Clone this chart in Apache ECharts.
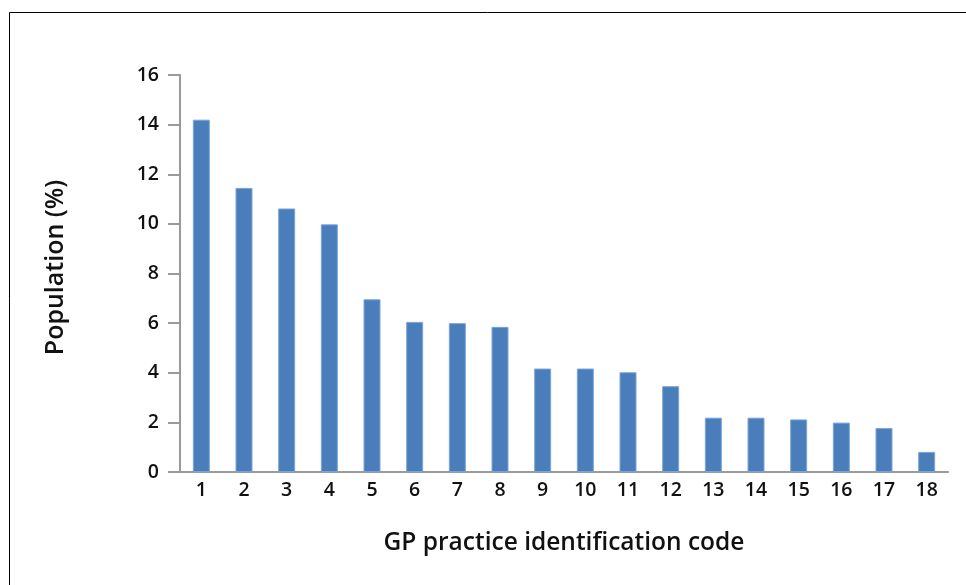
<!DOCTYPE html>
<html>
<head>
<meta charset="utf-8">
<script src="https://cdn.jsdelivr.net/npm/echarts@6/dist/echarts.min.js"></script>
<style>
html,body{margin:0;padding:0;background:#fff;}
#chart{width:966px;height:585px;}
</style>
</head>
<body>
<div id="chart"></div>
<script>
const categories = ['1','2','3','4','5','6','7','8','9','10','11','12','13','14','15','16','17','18'];
const populationPct = [14.2, 11.45, 10.62, 9.98, 6.96, 6.05, 6.0, 5.85, 4.17, 4.17, 4.02, 3.46, 2.19, 2.19, 2.12, 1.99, 1.77, 0.81];
const yTicks = { min: 0, max: 16, interval: 2 };

const chart = echarts.init(document.getElementById('chart'), null, { renderer: 'canvas' });
const font = '"Open Sans", "Noto Sans", sans-serif';
chart.setOption({
  animation: false,
  backgroundColor: '#fff',
  grid: { left: 180, right: 18, top: 75, bottom: 113 },
  graphic: [
    { type: 'line', shape: { x1: 9.5, y1: 12.5, x2: 966, y2: 12.5 }, style: { stroke: '#000', lineWidth: 1 } },
    { type: 'line', shape: { x1: 9.5, y1: 12.5, x2: 9.5, y2: 585 }, style: { stroke: '#000', lineWidth: 1 } }
  ],
  xAxis: {
    type: 'category',
    data: categories,
    name: 'GP practice identification code',
    nameLocation: 'middle',
    nameGap: 59,
    nameTextStyle: { fontFamily: font, fontSize: 24.5, fontWeight: 600, color: '#111', verticalAlign: 'top' },
    axisLine: { lineStyle: { color: '#9a9a9a', width: 2 } },
    axisTick: { show: false },
    axisLabel: { fontFamily: font, fontSize: 19.5, fontWeight: 600, color: '#111', margin: 8 }
  },
  yAxis: {
    type: 'value',
    min: yTicks.min, max: yTicks.max, interval: yTicks.interval,
    name: 'Population (%)',
    nameLocation: 'middle',
    nameGap: 112,
    nameTextStyle: { fontFamily: font, fontSize: 25, fontWeight: 600, color: '#111', padding: [0, 0, 0, 12] },
    axisLine: { show: true, lineStyle: { color: '#9a9a9a', width: 2 } },
    axisTick: { show: true, length: 12, lineStyle: { color: '#9a9a9a', width: 2 } },
    axisLabel: { fontFamily: font, fontSize: 19.5, fontWeight: 600, color: '#111', margin: 21 },
    splitLine: { show: false }
  },
  series: [{
    type: 'bar',
    data: populationPct,
    barWidth: 17,
    itemStyle: { color: '#4a7ebb', borderColor: '#7aa5d8', borderWidth: 1 }
  }]
});
</script>
</body>
</html>
